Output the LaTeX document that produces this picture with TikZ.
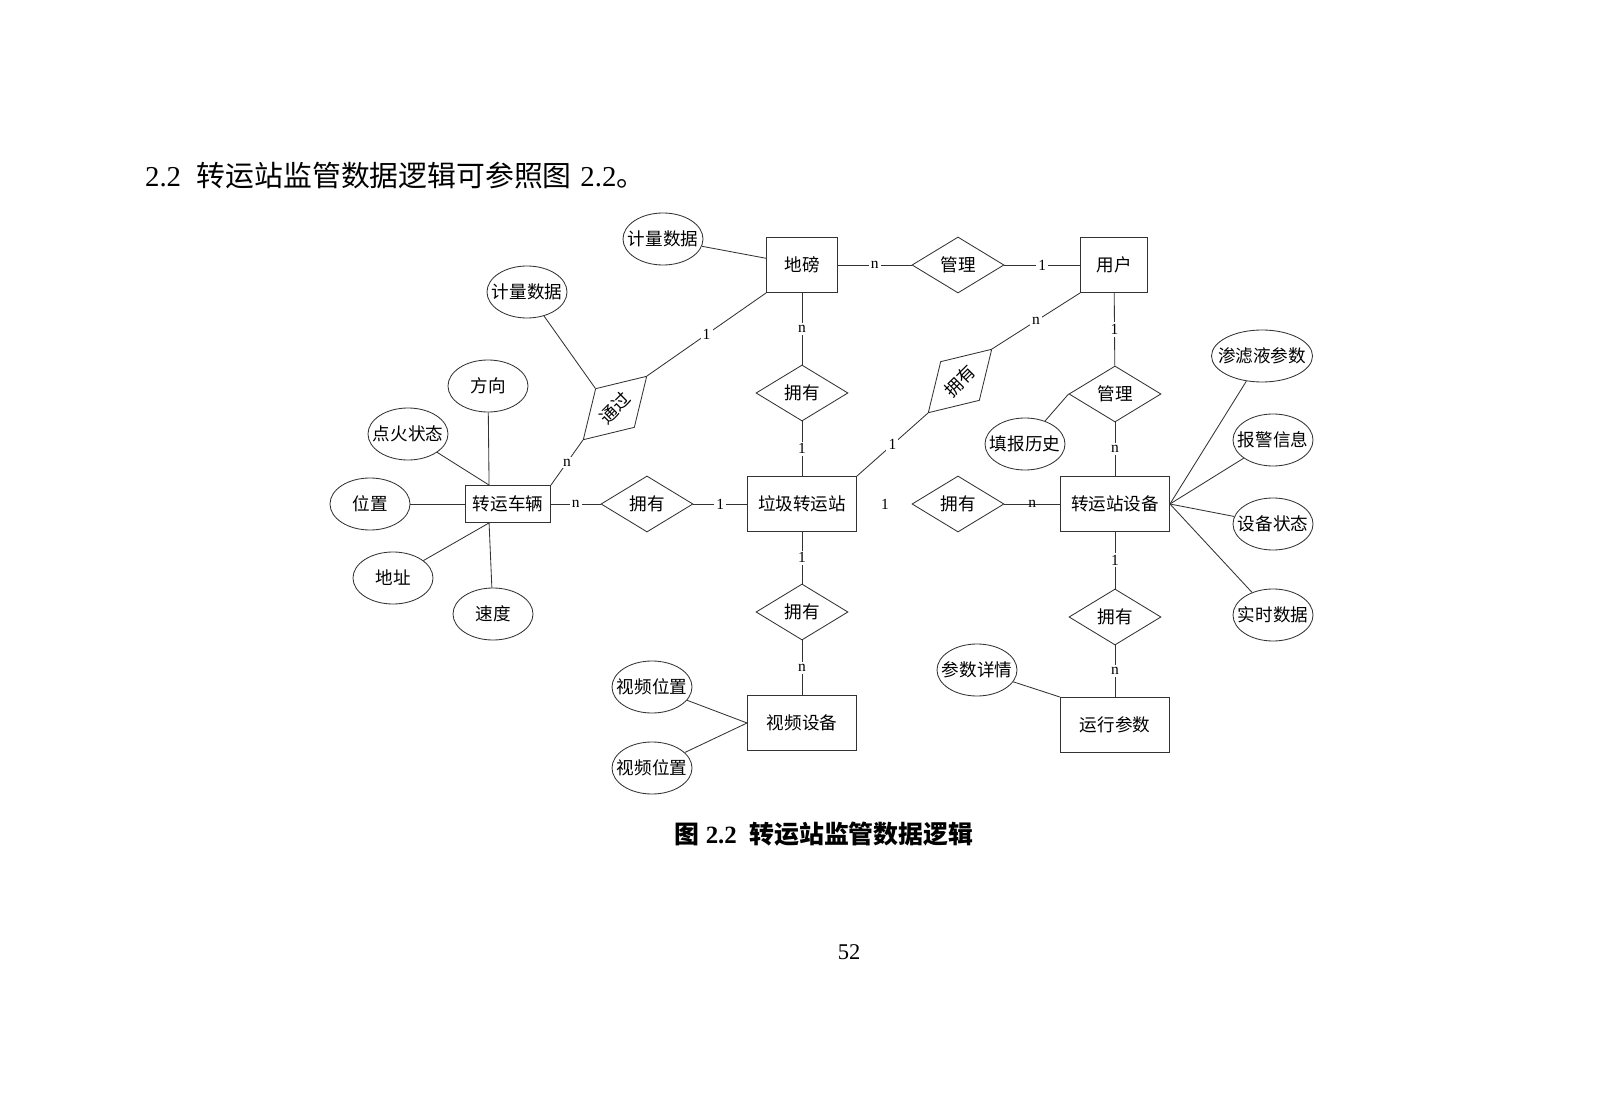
\documentclass[tikz,border=0pt]{standalone}
\usepackage{fontspec}
\setmainfont{Liberation Serif}
\newfontfamily\cjk{Noto Sans CJK SC}
\usetikzlibrary{shapes.geometric}

\begin{document}
\begin{tikzpicture}[x = 0.025cm, y = -0.025cm, line width = 0.6pt, every edge/.style = {draw = black!80},
    entity/.style   = {draw = black!80, rectangle, inner sep = 0pt, minimum width = 2.725cm, minimum height = 1.375cm, font = \fontsize{12.5}{15}\selectfont\cjk},
    relation/.style = {draw = black!80, diamond, aspect = 1.64, inner sep = 0pt, minimum width = 2.3cm, minimum height = 1.4cm, font = \fontsize{12.5}{15}\selectfont\cjk},
    attrib/.style   = {draw = black!80, ellipse, inner xsep = -8mm, inner ysep = 0pt, minimum width = 2cm, minimum height = 1.3cm, font = \fontsize{12.5}{15}\selectfont\cjk},
    card/.style     = {fill = white, inner sep = 1.5pt, font = \fontsize{11}{13}\selectfont}]
  \fill[white] (0,0) rectangle (1598,1102);
  \useasboundingbox (0,0) rectangle (1598,1102);

  % page text
  \node[anchor = west, font = \fontsize{20.5}{24}\selectfont] (title) at (140,176) {2.2\hspace{0.55em}{\cjk 转运站监管数据逻辑可参照图}\hspace{0.3em}2.2{\cjk 。}};
  \node[font = \fontsize{17.7}{21}\selectfont\bfseries] (caption) at (824,834) {{\cjk 图} 2.2\hspace{0.5em}{\cjk 转运站监管数据逻辑}};
  \node[font = \fontsize{16}{19}\selectfont] (page) at (849,952) {52};

  % entities
  \node[entity, minimum width = 1.775cm] (dibang) at (802,265) {地磅};
  \node[entity, minimum width = 1.675cm] (yonghu) at (1114,265) {用户};
  \node[entity] (zhan) at (802,504) {垃圾转运站};
  \node[entity, minimum width = 2.125cm, minimum height = 0.925cm] (cheliang) at (508,504) {转运车辆};
  \node[entity] (shebei) at (1115,504) {转运站设备};
  \node[entity] (shipin) at (802,723) {视频设备};
  \node[entity] (canshu) at (1115,725) {运行参数};

  % relations
  \node[relation] (guanliA) at (958,265) {管理};
  \node[relation] (yongyouA) at (802,393) {拥有};
  \node[relation] (yongyouB) at (647,504) {拥有};
  \node[relation] (yongyouC) at (958,504) {拥有};
  \node[relation] (guanliB) at (1115,394) {管理};
  \node[relation] (yongyouD) at (802,612) {拥有};
  \node[relation] (yongyouE) at (1115,617) {拥有};
  \node[relation, rotate = 45, minimum width = 2.25cm, minimum height = 1.375cm] (tongguo) at (615,408) {通过};
  \node[relation, rotate = 45, minimum width = 2.25cm, minimum height = 1.375cm] (yongyouF) at (960,381) {拥有};

  % attributes
  \node[attrib] (jiliangA) at (663,239) {计量数据};
  \node[attrib] (jiliangB) at (527,292) {计量数据};
  \node[attrib] (fangxiang) at (488,386) {方向};
  \node[attrib] (dianhuo) at (408,434) {点火状态};
  \node[attrib] (weizhi) at (370,504) {位置};
  \node[attrib] (dizhi) at (393,578) {地址};
  \node[attrib] (sudu) at (493,614) {速度};
  \node[attrib] (shipinA) at (652,687) {视频位置};
  \node[attrib] (shipinB) at (652,768) {视频位置};
  \node[attrib] (xiangqing) at (977,670) {参数详情};
  \node[attrib] (tianbao) at (1025,444) {填报历史};
  \node[attrib, minimum width = 2.525cm] (shenlv) at (1262,356) {渗滤液参数};
  \node[attrib] (baojing) at (1273,440) {报警信息};
  \node[attrib] (zhuangtai) at (1273,524) {设备状态};
  \node[attrib] (shishi) at (1273,615) {实时数据};

  \node[card, fill = none] (yi) at (885,504) {1};

  % connections
  \path (dibang) edge node[card] {n} (guanliA)
        (guanliA) edge node[card] {1} (yonghu)
        (dibang) edge node[card] {n} (yongyouA)
        (yongyouA) edge node[card] {1} (zhan)
        (cheliang) edge node[card] {n} (yongyouB)
        (yongyouB) edge node[card] {1} (zhan)
        (zhan) edge node[card] {1} (yongyouD)
        (yongyouD) edge node[card] {n} (shipin)
        (yonghu) edge node[card] {1} (guanliB)
        (guanliB) edge node[card] {n} (shebei)
        (shebei) edge node[card] {1} (yongyouE)
        (yongyouE) edge node[card] {n} (canshu)
        (yongyouC) edge node[card, fill = none] {n} (shebei)
        (cheliang.north east) edge node[card] {n} (tongguo.west)
        (tongguo.east) edge node[card] {1} (dibang.south west)
        (yonghu.south west) edge node[card] {n} (yongyouF.east)
        (yongyouF.west) edge node[card] {1} (zhan.north east);

  \path (jiliangA) edge (dibang)
        (jiliangB) edge (tongguo.north)
        (fangxiang) edge (cheliang.135)
        (dianhuo) edge (cheliang.135)
        (weizhi) edge (cheliang)
        (dizhi) edge (cheliang.225)
        (sudu) edge (cheliang.225)
        (shipinA) edge (shipin.west)
        (shipinB) edge (shipin.west)
        (xiangqing) edge (canshu.north west)
        (tianbao) edge (guanliB.west)
        (shebei.east) edge (shenlv)
        (shebei.east) edge (baojing)
        (shebei.east) edge (zhuangtai)
        (shebei.east) edge (shishi);
\end{tikzpicture}
\end{document}
